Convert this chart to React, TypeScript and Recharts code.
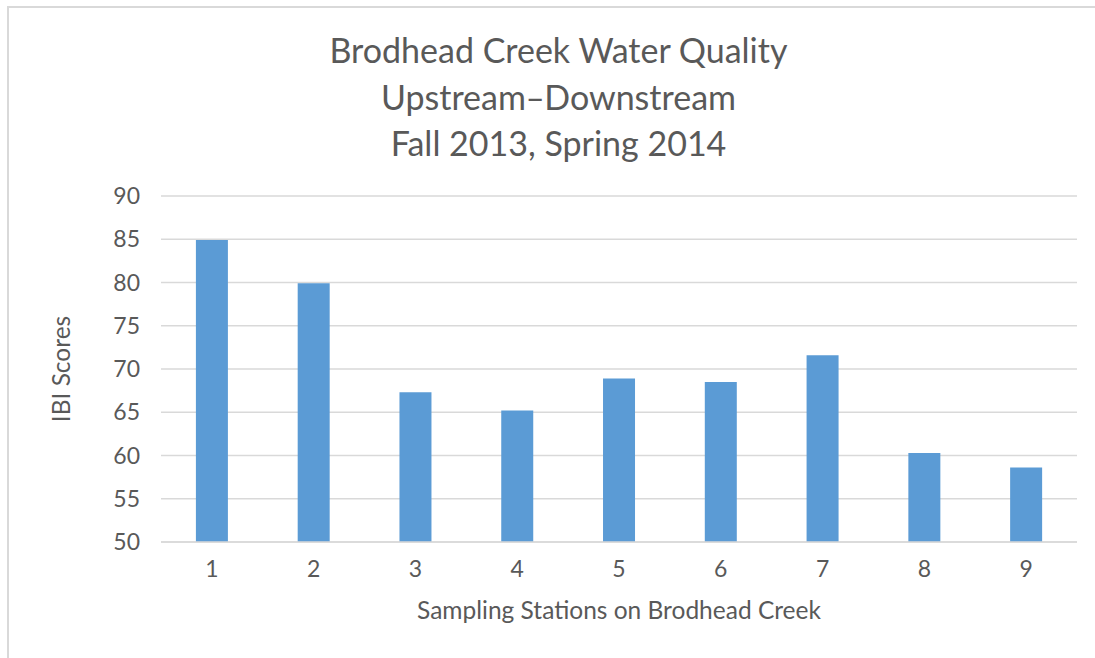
import React from "react";
import { BarChart, Bar, XAxis, YAxis, CartesianGrid, Label } from "recharts";

const stations = ["1", "2", "3", "4", "5", "6", "7", "8", "9"];
const ibiScores = [84.9, 79.9, 67.3, 65.2, 68.9, 68.5, 71.6, 60.3, 58.6];
const yTicks = [50, 55, 60, 65, 70, 75, 80, 85, 90];
const titleLines = ["Brodhead Creek Water Quality", "Upstream\u2012Downstream", "Fall 2013, Spring 2014"];

const data = stations.map((s, i) => ({ station: s, score: ibiScores[i] }));

const FONT = "Lato, 'Open Sans', sans-serif";
const TEXT = "#595959";

export default function App() {
  return (
    <div style={{ position: "absolute", left: 0, top: 0, width: 1095, height: 658, background: "#fff", fontFamily: FONT }}>
      <div
        style={{
          position: "absolute",
          left: 7,
          top: 6,
          width: 1095,
          height: 658,
          borderLeft: "2px solid #d9d9d9",
          borderTop: "2px solid #d9d9d9",
        }}
      />
      <div style={{ position: "absolute", left: 0, top: 27, width: 1117, textAlign: "center", color: TEXT, fontSize: 34, lineHeight: "46.5px" }}>
        {titleLines.map((t) => (
          <div key={t}>{t}</div>
        ))}
      </div>
      <div style={{ position: "absolute", left: 0, top: 0 }}>
        <BarChart
          width={1095}
          height={658}
          data={data}
          margin={{ top: 196, right: 18, bottom: 86, left: 101 }}
          barCategoryGap="34.3%"
        >
          <CartesianGrid vertical={false} stroke="#d9d9d9" strokeWidth={1.3} />
          <XAxis
            dataKey="station"
            axisLine={{ stroke: "#d9d9d9", strokeWidth: 1.3 }}
            tickLine={false}
            tickSize={0}
            tickMargin={19}
            height={30}
            tick={{ fill: TEXT, fontSize: 23, fontFamily: FONT }}
          >
            <Label
              value="Sampling Stations on Brodhead Creek"
              position="bottom"
              offset={30}
              fill={TEXT}
              fontSize={24.5}
              fontFamily={FONT}
            />
          </XAxis>
          <YAxis
            width={60}
            domain={[50, 90]}
            ticks={yTicks}
            axisLine={false}
            tickLine={false}
            tickSize={0}
            tickMargin={21}
            interval={0}
            allowDataOverflow
            tick={{ fill: TEXT, fontSize: 23, fontFamily: FONT }}
          >
            <Label
              value="IBI Scores"
              angle={-90}
              position="center"
              dx={-70}
              fill={TEXT}
              fontSize={24.5}
              fontFamily={FONT}
            />
          </YAxis>
          <Bar dataKey="score" fill="#5b9bd5" isAnimationActive={false} />
        </BarChart>
      </div>
    </div>
  );
}
